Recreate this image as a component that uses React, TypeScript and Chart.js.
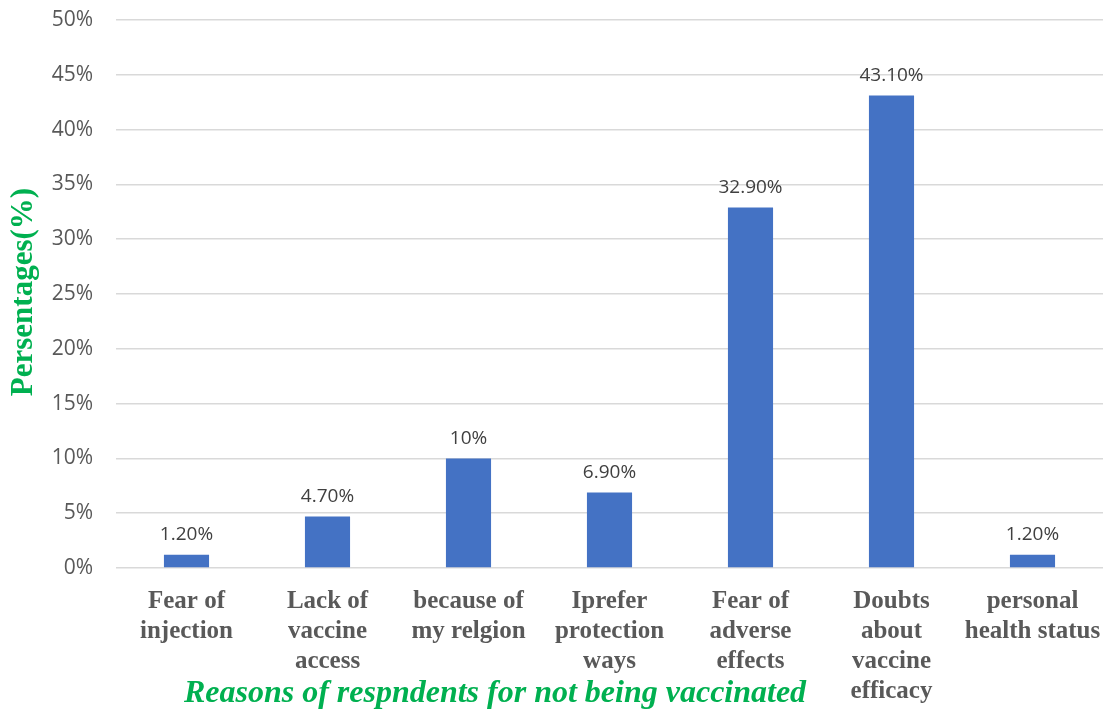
import React, { useEffect, useRef } from "react";
import { Chart, registerables } from "chart.js";

Chart.register(...registerables);

const categories: string[][] = [
  ["Fear of", "injection"],
  ["Lack of", "vaccine", "access"],
  ["because of", "my relgion"],
  ["Iprefer", "protection", "ways"],
  ["Fear of", "adverse", "effects"],
  ["Doubts", "about", "vaccine", "efficacy"],
  ["personal", "health status"],
];
const values: number[] = [1.2, 4.7, 10, 6.9, 32.9, 43.1, 1.2];
const valueLabels: string[] = ["1.20%", "4.70%", "10%", "6.90%", "32.90%", "43.10%", "1.20%"];
const yTitle = "Persentages(%)";
const xTitle = "Reasons of respndents for not being vaccinated";

const labelPlugin = {
  id: "customText",
  afterDatasetsDraw(chart: any) {
    const ctx = chart.ctx;
    const meta = chart.getDatasetMeta(0);
    ctx.save();
    ctx.fillStyle = "#404040";
    ctx.font = "19px 'Open Sans', 'Liberation Sans', sans-serif";
    ctx.textAlign = "center";
    ctx.textBaseline = "middle";
    meta.data.forEach((bar: any, i: number) => {
      ctx.fillText(valueLabels[i], bar.x, bar.y - 20);
    });
    ctx.restore();
  },
  afterDraw(chart: any) {
    const ctx = chart.ctx;
    ctx.save();
    ctx.fillStyle = "#00B050";
    ctx.font = "bold 31px 'Liberation Serif', serif";
    ctx.textAlign = "center";
    ctx.textBaseline = "middle";
    ctx.translate(24, 292);
    ctx.rotate(-Math.PI / 2);
    ctx.fillText(yTitle, 0, 0);
    ctx.restore();
    ctx.save();
    ctx.fillStyle = "#00B050";
    ctx.font = "italic bold 32px 'Liberation Serif', serif";
    ctx.textAlign = "center";
    ctx.textBaseline = "middle";
    ctx.fillText(xTitle, 495, 694);
    ctx.restore();
  },
};

export default function App() {
  const ref = useRef<HTMLCanvasElement | null>(null);
  useEffect(() => {
    document.body.style.margin = "0";
    const chart = new Chart(ref.current as HTMLCanvasElement, {
      type: "bar",
      data: {
        labels: categories,
        datasets: [
          {
            data: values,
            backgroundColor: "#4472C4",
            borderWidth: 0,
            barPercentage: 0.32,
            categoryPercentage: 1,
          },
        ],
      },
      options: {
        animation: false,
        responsive: false,
        maintainAspectRatio: false,
        layout: { padding: { top: 20, right: 4, left: 0, bottom: 0 } },
        plugins: { legend: { display: false }, tooltip: { enabled: false } },
        scales: {
          x: {
            grid: { display: false },
            border: { display: false },
            ticks: {
              autoSkip: false,
              maxRotation: 0,
              minRotation: 0,
              padding: 11,
              color: "#595959",
              font: { family: "'Liberation Serif', serif", size: 25, weight: "bold", lineHeight: 1.2 },
            },
            afterFit(scale: any) {
              scale.height = 148;
            },
            afterUpdate(scale: any) {
              scale.paddingRight = 0;
              scale.paddingLeft = 0;
            },
          },
          y: {
            min: 0,
            max: 50,
            grid: { color: "#d9d9d9", lineWidth: 1.5, drawTicks: false },
            border: { display: false },
            ticks: {
              stepSize: 5,
              padding: 23,
              color: "#595959",
              font: { family: "'Open Sans', 'Liberation Sans', sans-serif", size: 21 },
              callback: (v: any) => v + "%",
            },
            afterFit(scale: any) {
              scale.width = 116;
              scale.paddingTop = 0;
              scale.paddingBottom = 0;
            },
          },
        },
      },
      plugins: [labelPlugin],
    });
    return () => chart.destroy();
  }, []);
  return (
    <div style={{ position: "absolute", left: 0, top: 0, width: 1107, height: 716, background: "#fff" }}>
      <canvas ref={ref} width={1107} height={716} style={{ width: 1107, height: 716 }} />
    </div>
  );
}
